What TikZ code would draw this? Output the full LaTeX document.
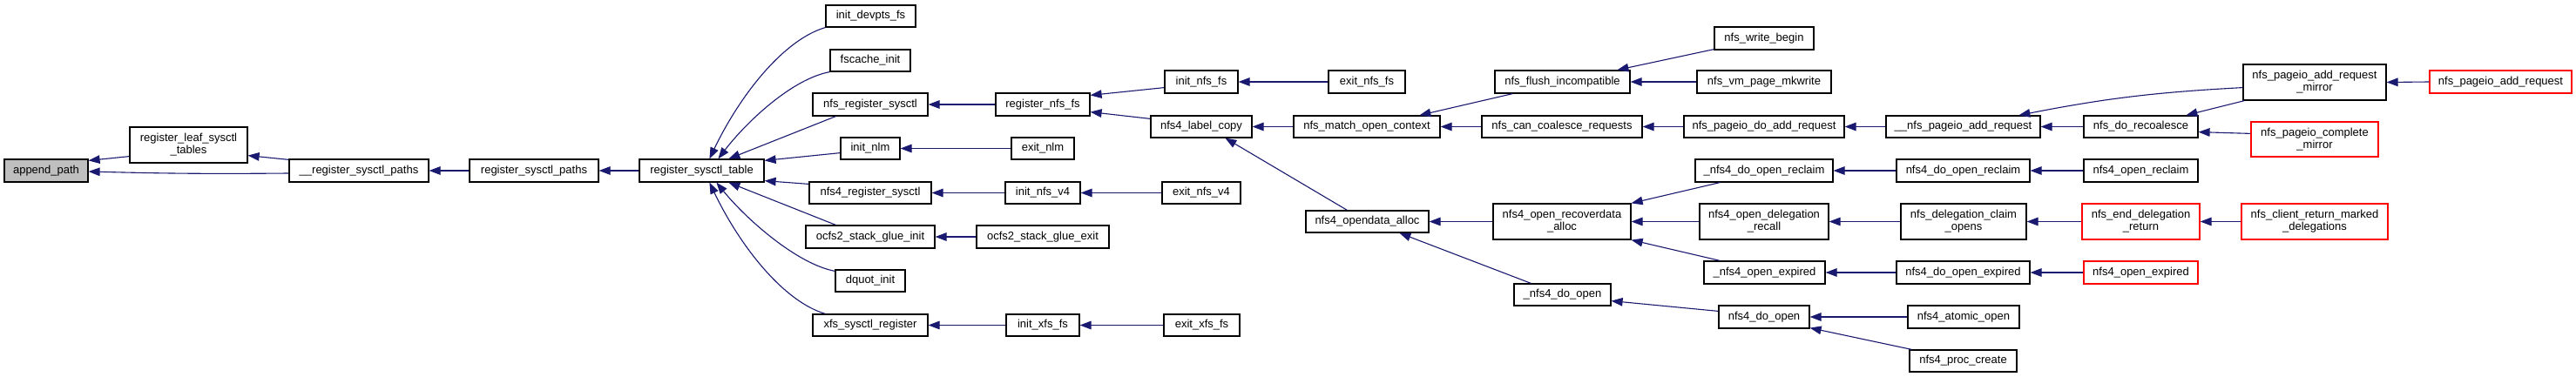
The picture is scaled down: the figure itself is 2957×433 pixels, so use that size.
\documentclass[tikz,border=0pt]{standalone}
\usepackage{fontspec}
\setmainfont{Liberation Sans}
\usetikzlibrary{arrows.meta,calc}
\definecolor{edgeblue}{RGB}{25,25,112}
\definecolor{nodegray}{RGB}{191,191,191}
\newcommand\gn[7][]{\node[gbox,#1,minimum width={(#4-#2)*0.5pt},minimum height={(#5-#3)*0.5pt}] (#6) at ({(#2+#4)/2},{(#3+#5)/2}) {#7};}
\begin{document}
\begin{tikzpicture}[x=0.5pt,y=-0.5pt,
  gbox/.style={draw=black,line width=0.6pt,fill=white,inner sep=0pt,align=center,
    font=\fontsize{6.5}{7}\selectfont},
  redbox/.style={draw=red},
  selbox/.style={fill=nodegray},
  edge/.style={draw=edgeblue,line width=0.55pt,-{Triangle[length=6.5pt,width=4.8pt]}}]
\useasboundingbox (0,0) rectangle (2957,433);
\fill[white] (0,0) rectangle (2957,433);
% nodes
\gn[selbox]{5}{183}{101}{209}{ap}{append\_path}
\gn{149}{146}{284}{187}{rl}{register\_leaf\_sysctl\\\_tables}
\gn{332}{183}{492}{209}{rspb}{\_\_register\_sysctl\_paths}
\gn{539}{183}{687}{209}{rsp}{register\_sysctl\_paths}
\gn{734}{183}{877}{209}{rst}{register\_sysctl\_table}
\gn{948}{6}{1051}{31}{idf}{init\_devpts\_fs}
\gn{953}{57}{1045}{82}{fci}{fscache\_init}
\gn{933}{107}{1065}{133}{nrs}{nfs\_register\_sysctl}
\gn{965}{158}{1033}{183}{inl}{init\_nlm}
\gn{929}{209}{1069}{234}{nfrs}{nfs4\_register\_sysctl}
\gn{925}{259}{1073}{285}{osgi}{ocfs2\_stack\_glue\_init}
\gn{959}{310}{1039}{335}{dqi}{dquot\_init}
\gn{933}{361}{1065}{386}{xsr}{xfs\_sysctl\_register}
\gn{1143}{107}{1251}{133}{rnf}{register\_nfs\_fs}
\gn{1161}{158}{1233}{183}{enl}{exit\_nlm}
\gn{1154}{209}{1240}{234}{invf}{init\_nfs\_v4}
\gn{1121}{259}{1273}{285}{osge}{ocfs2\_stack\_glue\_exit}
\gn{1155}{361}{1239}{386}{ixf}{init\_xfs\_fs}
\gn{1337}{81}{1421}{107}{inf}{init\_nfs\_fs}
\gn{1321}{133}{1437}{158}{nlc}{nfs4\_label\_copy}
\gn{1334}{209}{1424}{234}{envf}{exit\_nfs\_v4}
\gn{1336}{361}{1423}{386}{exf}{exit\_xfs\_fs}
\gn{1525}{81}{1613}{107}{enf}{exit\_nfs\_fs}
\gn{1485}{133}{1653}{158}{nmoc}{nfs\_match\_open\_context}
\gn{1499}{242}{1640}{267}{noa}{nfs4\_opendata\_alloc}
\gn{1716}{81}{1871}{107}{nfi}{nfs\_flush\_incompatible}
\gn{1701}{133}{1885}{158}{ncc}{nfs\_can\_coalesce\_requests}
\gn{1714}{234}{1872}{275}{nora}{nfs4\_open\_recoverdata\\\_alloc}
\gn{1738}{326}{1849}{351}{ndo}{\_nfs4\_do\_open}
\gn{1968}{31}{2082}{57}{nwb}{nfs\_write\_begin}
\gn{1948}{81}{2102}{107}{nvm}{nfs\_vm\_page\_mkwrite}
\gn{1933}{133}{2117}{158}{npd}{nfs\_pageio\_do\_add\_request}
\gn{1946}{183}{2104}{209}{ndor}{\_nfs4\_do\_open\_reclaim}
\gn{1951}{234}{2099}{275}{nodr}{nfs4\_open\_delegation\\\_recall}
\gn{1956}{300}{2095}{326}{noe}{\_nfs4\_open\_expired}
\gn{1973}{351}{2077}{377}{nfdo}{nfs4\_do\_open}
\gn{2165}{133}{2342}{158}{npab}{\_\_nfs\_pageio\_add\_request}
\gn{2177}{183}{2330}{209}{nfdor}{nfs4\_do\_open\_reclaim}
\gn{2182}{234}{2326}{275}{ndco}{nfs\_delegation\_claim\\\_opens}
\gn{2177}{300}{2330}{326}{nfdoe}{nfs4\_do\_open\_expired}
\gn{2190}{351}{2318}{377}{nfao}{nfs4\_atomic\_open}
\gn{2192}{402}{2315}{427}{nfpc}{nfs4\_proc\_create}
\gn{2392}{133}{2523}{158}{ndr}{nfs\_do\_recoalesce}
\gn{2392}{183}{2523}{209}{nfor}{nfs4\_open\_reclaim}
\gn[redbox]{2390}{234}{2525}{275}{nedr}{nfs\_end\_delegation\\\_return}
\gn[redbox]{2392}{300}{2523}{326}{nfoe}{nfs4\_open\_expired}
\gn{2575}{74}{2739}{115}{npam}{nfs\_pageio\_add\_request\\\_mirror}
\gn[redbox]{2584}{140}{2730}{180}{npcm}{nfs\_pageio\_complete\\\_mirror}
\gn[redbox]{2573}{234}{2741}{275}{ncrm}{nfs\_client\_return\_marked\\\_delegations}
\gn[redbox]{2789}{81}{2952}{107}{npa}{nfs\_pageio\_add\_request}
% edges
\draw[edge] ($(rl.south west)+(0,-8)$) -- ($(ap.north east)+(0,2)$);
\draw[edge] ($(rspb.west)+(0,3)$) to[bend left=1] ($(ap.east)+(0,1)$);
\draw[edge] ($(rspb.north west)+(0,1)$) -- ($(rl.south east)+(0,-9)$);
\draw[edge] (rsp.west) -- (rspb.east);
\draw[edge] (rst.west) -- (rsp.east);
\draw[edge] (idf.south west) .. controls +(-48,14) and +(35,-73) .. ($(rst.north west)+(81,0)$);
\draw[edge] (fci.south west) .. controls +(-43,8) and +(33,-43) .. ($(rst.north west)+(91,0)$);
\draw[edge] ($(nrs.south west)+(27,0)$) -- ($(rst.north west)+(103,0)$);
\draw[edge] ($(inl.south west)+(0,-8)$) -- ($(rst.north east)+(0,2)$);
\draw[edge] ($(nfrs.north west)+(0,3)$) -- ($(rst.south east)+(0,-2)$);
\draw[edge] ($(osgi.north west)+(35,0)$) -- ($(rst.south west)+(103,0)$);
\draw[edge] ($(dqi.north west)+(0,2)$) .. controls +(-43,-8) and +(35,43) .. ($(rst.south west)+(89,0)$);
\draw[edge] ($(xsr.north west)+(15,0)$) .. controls +(-48,-14) and +(35,73) .. ($(rst.south west)+(81,0)$);
\draw[edge] (rnf.west) -- (nrs.east);
\draw[edge] ($(inf.south west)+(0,-7)$) -- ($(rnf.north east)+(0,3)$);
\draw[edge] ($(nlc.north west)+(0,4)$) -- ($(rnf.south east)+(0,-5)$);
\draw[edge] (enf.west) -- (inf.east);
\draw[edge] (nmoc.west) -- (nlc.east);
\draw[edge] ($(noa.north west)+(48,0)$) -- ($(nlc.south west)+(86,0)$);
\draw[edge] (enl.west) -- (inl.east);
\draw[edge] (invf.west) -- (nfrs.east);
\draw[edge] (envf.west) -- (invf.east);
\draw[edge] (osge.west) -- (osgi.east);
\draw[edge] (ixf.west) -- (xsr.east);
\draw[edge] (exf.west) -- (ixf.east);
\draw[edge] ($(nfi.south west)+(21,0)$) -- ($(nmoc.north west)+(145,0)$);
\draw[edge] (ncc.west) -- (nmoc.east);
\draw[edge] ($(nwb.south west)+(0,-1)$) -- ($(nfi.north west)+(141,0)$);
\draw[edge] (nvm.west) -- (nfi.east);
\draw[edge] (npd.west) -- (ncc.east);
\draw[edge] (npab.west) -- (npd.east);
\draw[edge] ($(npam.south west)+(0,-15)$) to[bend right=4] ($(npab.north west)+(153,0)$);
\draw[edge] (ndr.west) -- (npab.east);
\draw[edge] ($(npam.south west)+(2,0)$) -- ($(ndr.north west)+(118,0)$);
\draw[edge] ($(npcm.north west)+(0,14)$) -- ($(ndr.south east)+(0,-7)$);
\draw[edge] (npa.west) -- (npam.east);
\draw[edge] (nora.west) -- (noa.east);
\draw[edge] ($(ndo.north west)+(20,0)$) -- ($(noa.south west)+(108,0)$);
\draw[edge] ($(ndor.south west)+(29,0)$) -- (nora.north east);
\draw[edge] (nodr.west) -- (nora.east);
\draw[edge] ($(noe.north west)+(19,0)$) -- (nora.south east);
\draw[edge] ($(nfdo.north west)+(0,7)$) -- ($(ndo.south east)+(0,-6)$);
\draw[edge] (nfdor.west) -- (ndor.east);
\draw[edge] (nfor.west) -- (nfdor.east);
\draw[edge] (ndco.west) -- (nodr.east);
\draw[edge] (nedr.west) -- (ndco.east);
\draw[edge] (ncrm.west) -- (nedr.east);
\draw[edge] (nfdoe.west) -- (noe.east);
\draw[edge] (nfoe.west) -- (nfdoe.east);
\draw[edge] (nfao.west) -- (nfdo.east);
\draw[edge] ($(nfpc.north west)+(3,0)$) -- ($(nfdo.south east)+(0,-1)$);
\end{tikzpicture}
\end{document}
